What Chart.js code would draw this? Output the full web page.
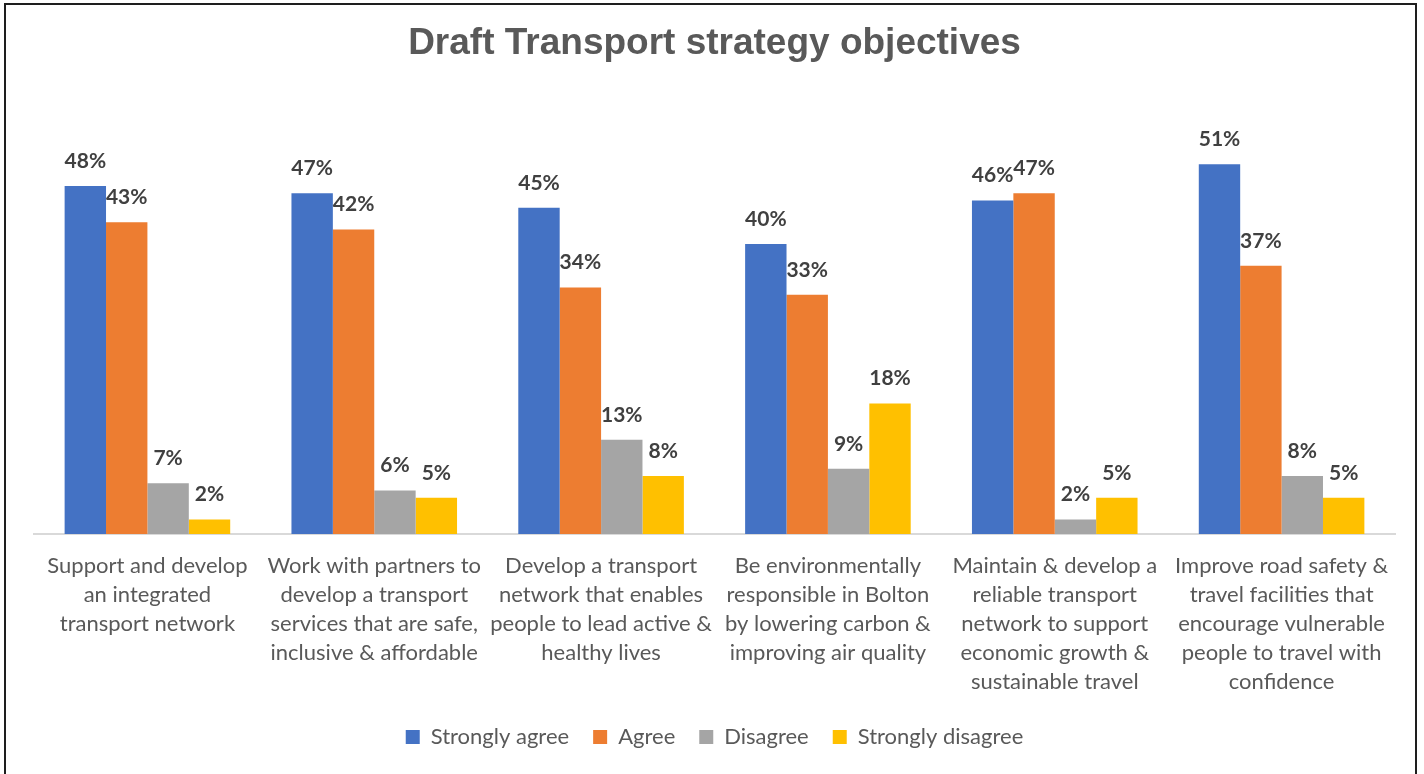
<!DOCTYPE html>
<html>
<head>
<meta charset="utf-8">
<title>Draft Transport strategy objectives</title>
<script src="https://cdn.jsdelivr.net/npm/chart.js@4.4.1/dist/chart.umd.min.js"></script>
<style>
    html, body { margin: 0; padding: 0; background: #fff; }
    #wrap { position: relative; width: 1424px; height: 774px; overflow: hidden; }
    #frame {
        position: absolute; left: 4px; top: 3px; width: 1413px; height: 800px;
        border: 2px solid #1e1e1e; box-sizing: border-box; pointer-events: none;
    }
    #chart { position: absolute; left: 0; top: 0; }
</style>
</head>
<body>
<div id="wrap">
    <canvas id="chart" width="1424" height="774"></canvas>
    <div id="frame"></div>
</div>
<script>
// ========== 调查结果 ==========

const objectives = [
    ['Support and develop', 'an integrated', 'transport network'],
    ['Work with partners to', 'develop a transport', 'services that are safe,', 'inclusive & affordable'],
    ['Develop a transport', 'network that enables', 'people to lead active &', 'healthy lives'],
    ['Be environmentally', 'responsible in Bolton', 'by lowering carbon &', 'improving air quality'],
    ['Maintain & develop a', 'reliable transport', 'network to support', 'economic growth &', 'sustainable travel'],
    ['Improve road safety &', 'travel facilities that', 'encourage vulnerable', 'people to travel with', 'confidence']
];

const stronglyAgree = [48, 47, 45, 40, 46, 51];
const agree = [43, 42, 34, 33, 47, 37];
const disagree = [7, 6, 13, 9, 2, 8];
const stronglyDisagree = [2, 5, 8, 18, 5, 5];

const textGrey = '#595959';
const labelGrey = '#404040';
const bodyFont = 'Lato, "Open Sans", sans-serif';

// 柱顶百分比标签
const valueLabels = {
    id: 'valueLabels',
    afterDatasetsDraw(chart) {
        const ctx = chart.ctx;
        ctx.save();
        ctx.font = 'bold 21px ' + bodyFont;
        ctx.fillStyle = labelGrey;
        ctx.textAlign = 'center';
        ctx.textBaseline = 'middle';
        chart.data.datasets.forEach((ds, i) => {
            const meta = chart.getDatasetMeta(i);
            meta.data.forEach((bar, j) => {
                ctx.fillText(ds.data[j] + '%', bar.x, bar.y - 25);
            });
        });
        ctx.restore();
    }
};

function makeDataset(label, data, color) {
    return {
        label: label,
        data: data,
        backgroundColor: color,
        borderWidth: 0,
        categoryPercentage: 0.73,
        barPercentage: 1.0
    };
}

new Chart(document.getElementById('chart'), {
    type: 'bar',
    data: {
        labels: objectives,
        datasets: [
            makeDataset('Strongly agree', stronglyAgree, '#4472C4'),
            makeDataset('Agree', agree, '#ED7D31'),
            makeDataset('Disagree', disagree, '#A5A5A5'),
            makeDataset('Strongly disagree', stronglyDisagree, '#FFC000')
        ]
    },
    options: {
        responsive: false,
        animation: false,
        layout: {
            padding: { left: 34, right: 29, top: 0, bottom: 16 }
        },
        plugins: {
            title: {
                display: true,
                text: 'Draft Transport strategy objectives',
                color: textGrey,
                font: { family: '"Liberation Sans", Arial, sans-serif', size: 37, weight: 'bold' },
                padding: { top: 22, bottom: 32.6 }
            },
            legend: {
                display: true,
                position: 'bottom',
                labels: {
                    color: textGrey,
                    font: { family: bodyFont, size: 22 },
                    boxWidth: 14,
                    boxHeight: 14,
                    padding: 24
                }
            },
            tooltip: { enabled: false }
        },
        scales: {
            x: {
                grid: { display: false, drawTicks: false },
                border: { display: true, color: '#d9d9d9', width: 2 },
                ticks: {
                    color: textGrey,
                    font: { family: bodyFont, size: 22, lineHeight: 1.32 },
                    padding: 17.5,
                    maxRotation: 0,
                    autoSkip: false
                },
                // 固定分类轴高度，避免标签区过高
                afterFit: function(scale) {
                    scale.height = 168;
                }
            },
            y: {
                display: false,
                min: 0,
                max: 60
            }
        }
    },
    plugins: [valueLabels]
});
</script>
</body>
</html>
